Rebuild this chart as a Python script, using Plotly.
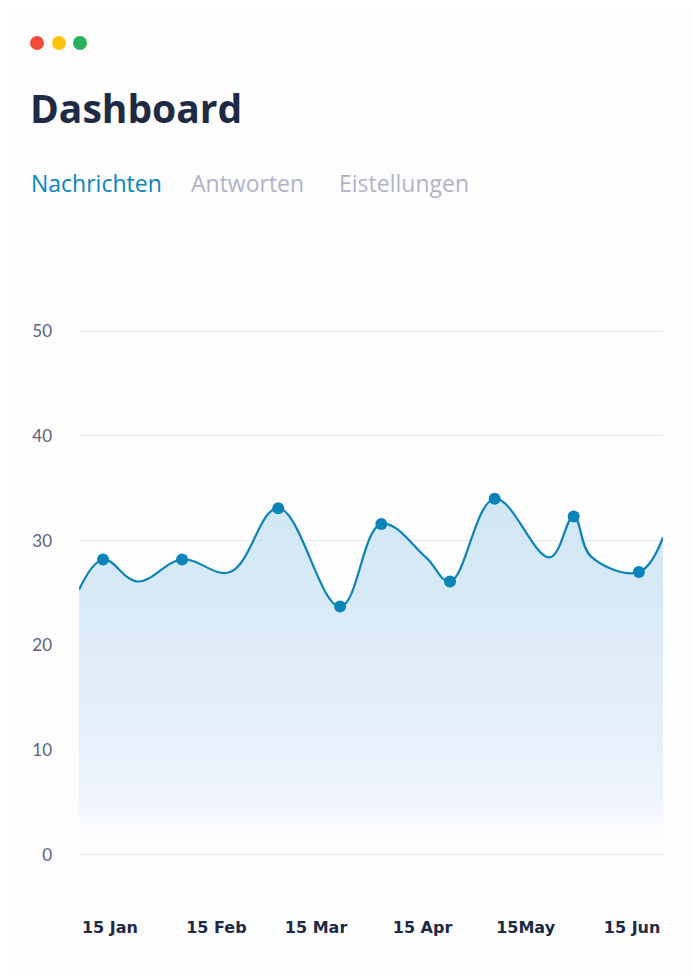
import plotly.graph_objects as go

# Nachrichten pro Tag (Kurve)
dates = ["2024-01-06", "2024-01-13", "2024-01-23", "2024-02-05", "2024-02-19",
         "2024-03-04", "2024-03-22", "2024-04-03", "2024-04-16", "2024-04-23",
         "2024-05-06", "2024-05-22", "2024-05-29", "2024-06-03", "2024-06-17",
         "2024-06-24"]
valeurs = [25.3, 28.2, 26.1, 28.2, 27.0, 33.1, 23.7, 31.6, 28.4, 26.1,
           34.0, 28.4, 32.3, 28.5, 27.0, 30.3]

# points marqués
dates_points = ["2024-01-13", "2024-02-05", "2024-03-04", "2024-03-22", "2024-04-03",
                "2024-04-23", "2024-05-06", "2024-05-29", "2024-06-17"]
valeurs_points = [28.2, 28.2, 33.1, 23.7, 31.6, 26.1, 34.0, 32.3, 27.0]

tick_dates = ["2024-01-15", "2024-02-15", "2024-03-15", "2024-04-15", "2024-05-15", "2024-06-15"]
tick_labels = ["15 Jan", "15 Feb", "15 Mar", "15 Apr", "15May", "15 Jun"]
y_ticks = [0, 10, 20, 30, 40, 50]

bleu = "#0b84b9"

fig = go.Figure()

# courbe + remplissage en dégradé
fig.add_trace(go.Scatter(
    x=dates, y=valeurs,
    mode="lines",
    line=dict(color=bleu, width=2.2, shape="spline", smoothing=1.1),
    fill="tozeroy",
    fillgradient=dict(
        type="vertical",
        start=0, stop=34,
        colorscale=[[0, "rgba(255,255,255,0)"],
                     [0.12, "rgba(238,243,253,0.7)"],
                     [0.35, "rgba(222,236,249,0.8)"],
                     [1, "rgba(200,226,242,0.85)"]]
    ),
    hoverinfo="skip",
    showlegend=False
))

fig.add_trace(go.Scatter(
    x=dates_points, y=valeurs_points,
    mode="markers",
    marker=dict(color=bleu, size=12),
    showlegend=False
))

# les trois points (fenêtre)
for cx, col in [(37, "#f44b3a"), (59, "#ffc30d"), (80, "#27b15a")]:
    fig.add_shape(type="circle", xref="paper", yref="paper",
                  xsizemode="pixel", ysizemode="pixel",
                  xanchor=0, yanchor=1,
                  x0=(cx - 79 - 7), x1=(cx - 79 + 7),
                  y0=-(43 - 326 + 7) , y1=-(43 - 326 - 7),
                  fillcolor=col, line_width=0, layer="above")

fig.add_annotation(text="<b>Dashboard</b>", xref="paper", yref="paper",
                   x=(28 - 79) / 584, y=1 + (326 - 107) / 534, xanchor="left", yanchor="middle",
                   showarrow=False, font=dict(family="Open Sans", size=39, color="#1f2a44"))

tabs = [("Nachrichten", 31, "#0a86ba"), ("Antworten", 191, "#b1b3c7"), ("Eistellungen", 339, "#b1b3c7")]
for txt, tx, col in tabs:
    fig.add_annotation(text=txt, xref="paper", yref="paper",
                       x=(tx - 81) / 584, y=1 + (326 - 183) / 534, xanchor="left", yanchor="middle",
                       showarrow=False, font=dict(family="Open Sans", size=23, color=col))

fig.update_layout(
    width=699, height=977,
    margin=dict(l=71, r=44, t=318, b=125),
    paper_bgcolor="#fdfdfe",
    plot_bgcolor="#fdfdfe",
    font=dict(family="Lato"),
    xaxis=dict(
        range=["2024-01-06", "2024-06-24"],
        tickmode="array", tickvals=tick_dates, ticktext=tick_labels,
        showgrid=False, zeroline=False, showline=False,
        ticklabelstandoff=56,
        tickfont=dict(family="DejaVu Sans", size=16, color="#1e2a45", weight="bold"),
    ),
    yaxis=dict(
        range=[-0.5, 50.5],
        tickmode="array", tickvals=y_ticks,
        showgrid=True, gridcolor="#e4e8f5", gridwidth=1.2,
        zeroline=False, showline=False,
        ticklabelstandoff=26,
        tickfont=dict(family="Lato", size=17, color="#5b6282"),
    ),
)

fig.write_html("out.html")
